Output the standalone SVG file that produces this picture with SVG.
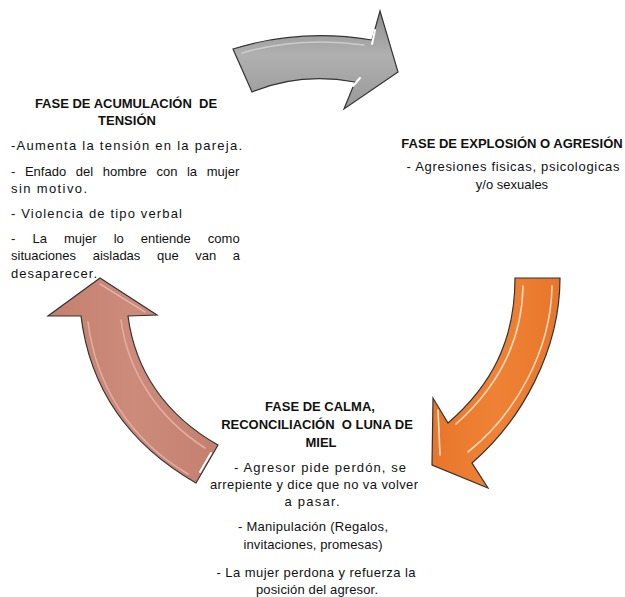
<svg xmlns="http://www.w3.org/2000/svg" width="625" height="597" viewBox="0 0 625 597">
<style>
  text { font-family: "Liberation Sans", Arial, sans-serif; font-size: 13px; fill: #111; }
  .t { font-weight: bold; text-anchor: middle; }
  .c { text-anchor: middle; }
  .arrow { stroke: #333; stroke-width: 1.2; stroke-linejoin: miter; }
  .hl { fill: none; stroke-linecap: round; }
</style>
<defs>
  <linearGradient id="gGray" x1="0" y1="0" x2="0" y2="1">
    <stop offset="0" stop-color="#8e8e8e"/>
    <stop offset="0.45" stop-color="#b0b0b0"/>
    <stop offset="1" stop-color="#999"/>
  </linearGradient>
  <linearGradient id="gOrange" x1="0" y1="0" x2="1" y2="0">
    <stop offset="0" stop-color="#e8762a"/>
    <stop offset="0.5" stop-color="#ef8236"/>
    <stop offset="1" stop-color="#e8762a"/>
  </linearGradient>
  <linearGradient id="gPink" x1="0" y1="0" x2="1" y2="0">
    <stop offset="0" stop-color="#c4806f"/>
    <stop offset="0.5" stop-color="#cc8b7b"/>
    <stop offset="1" stop-color="#c4806f"/>
  </linearGradient>
</defs>

<g id="connectors">
  <g id="arrow-gray">
    <path class="arrow" fill="url(#gGray)" d="M233,49 Q300,28 372,40 L380,11 L398,72 L344,109 L355,82 Q300,72 252,92 Z"/>
    <path class="hl" stroke="#dcdcdc" stroke-width="1.5" opacity="0.7" d="M242,53 Q300,36 364,45"/>
    <path class="hl" stroke="#ffffff" stroke-width="2" d="M375,30 L372,44"/>
    <path class="hl" stroke="#ffffff" stroke-width="2" d="M360,78 L353,86"/>
  </g>
  <g id="arrow-orange">
    <path class="arrow" fill="url(#gOrange)" d="M515,278 L560,278 C560,350 522,420 472,463 L488,488 L432,465 L433,398 L448,423 C492,385 515,340 515,278 Z"/>
    <path class="hl" stroke="#fcd8bb" stroke-width="1.6" d="M523,286 C522,340 500,385 456,424"/>
    <path class="hl" stroke="#fcd8bb" stroke-width="1.6" d="M552,286 C551,350 516,414 468,452"/>
    <path class="hl" stroke="#fde3cf" stroke-width="1.6" d="M438,410 L440,455"/>
  </g>
  <g id="arrow-pink">
    <path class="arrow" fill="url(#gPink)" d="M100,278 L157,315 L128,316 C135,370 165,415 218,445 L196,483 C130,445 90,390 81,316 L48,316 Z"/>
    <path class="hl" stroke="#e3ada0" stroke-width="1.6" d="M88,322 C96,385 130,440 188,474"/>
    <path class="hl" stroke="#e3ada0" stroke-width="1.6" d="M121,320 C128,372 158,418 205,448"/>
    <path class="hl" stroke="#ffffff" stroke-width="2" d="M211,453 L200,472"/>
    <path class="hl" stroke="#e9bcb1" stroke-width="1.4" d="M100,284 L145,312"/>
  </g>
</g>

<g id="node-acumulacion">
  <text class="t" x="126" y="108" xml:space="preserve">FASE DE ACUMULACIÓN  DE</text>
  <text class="t" x="127" y="125">TENSIÓN</text>
  <text x="11" y="150" textLength="231" lengthAdjust="spacing">-Aumenta la tensión en la pareja.</text>
  <text x="11" y="176" word-spacing="6">- Enfado del hombre con la mujer</text>
  <text x="11" y="193" textLength="76" lengthAdjust="spacing">sin motivo.</text>
  <text x="11" y="218" textLength="171" lengthAdjust="spacing">- Violencia de tipo verbal</text>
  <text x="11" y="243" word-spacing="13.5">- La mujer lo entiende como</text>
  <text x="11" y="260" word-spacing="13">situaciones aisladas que van a</text>
  <text x="11" y="278" textLength="86" lengthAdjust="spacing">desaparecer.</text>
</g>

<g id="node-explosion">
  <text class="t" x="512" y="148">FASE DE EXPLOSIÓN O AGRESIÓN</text>
  <text class="c" x="513" y="171" textLength="213" lengthAdjust="spacing">- Agresiones fisicas, psicologicas</text>
  <text class="c" x="512" y="189">y/o sexuales</text>
</g>

<g id="node-calma">
  <text class="t" x="320" y="411">FASE DE CALMA,</text>
  <text class="t" x="317" y="429" xml:space="preserve">RECONCILIACIÓN  O LUNA DE</text>
  <text class="t" x="321" y="447">MIEL</text>
  <text class="c" x="320" y="472" textLength="172" lengthAdjust="spacing">- Agresor pide perdón, se</text>
  <text class="c" x="314" y="489" textLength="208" lengthAdjust="spacing">arrepiente y dice que no va volver</text>
  <text class="c" x="312" y="506" textLength="55" lengthAdjust="spacing">a pasar.</text>
  <text class="c" x="313" y="531" textLength="150" lengthAdjust="spacing">- Manipulación (Regalos,</text>
  <text class="c" x="313" y="549" textLength="139" lengthAdjust="spacing">invitaciones, promesas)</text>
  <text class="c" x="316" y="577" textLength="199" lengthAdjust="spacing">- La mujer perdona y refuerza la</text>
  <text class="c" x="317" y="594" textLength="122" lengthAdjust="spacing">posición del agresor.</text>
</g>
</svg>
